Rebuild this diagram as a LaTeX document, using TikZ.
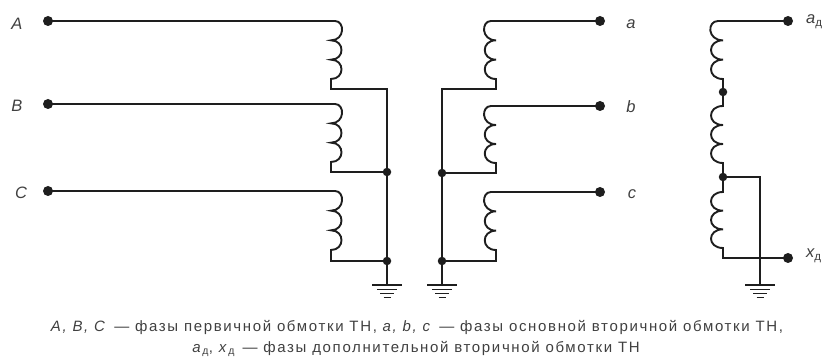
\documentclass[tikz,border=0pt]{standalone}
\usepackage{fontspec}
\setmainfont{Liberation Sans}
\usetikzlibrary{calc}
\definecolor{ink}{HTML}{1E1E1E}
\newfontfamily\capfont[LetterSpace=11]{Liberation Sans}
\tikzset{
  wire/.style={draw=ink,line width=1.9pt,line join=miter},
  termdot/.style={circle,fill=ink,inner sep=0pt,minimum size=10pt},
  joindot/.style={circle,fill=ink,inner sep=0pt,minimum size=8.5pt},
  lab/.style={text=ink!85,font=\fontsize{16.5}{18}\selectfont\itshape,inner sep=0pt},
  captext/.style={text=ink!85,font=\fontsize{15}{17}\capfont,inner sep=0pt},
  coil/.style={to path={
    .. controls ($(\tikztotarget |- \tikztostart)+(#1,0)$) and ($(\tikztotarget)!2/3!(\tikztotarget |- \tikztostart)+(#1,0)$) .. ($(\tikztotarget)!2/3!(\tikztotarget |- \tikztostart)$)
    .. controls ($(\tikztotarget)!2/3!(\tikztotarget |- \tikztostart)+(#1,0)$) and ($(\tikztotarget)!1/3!(\tikztotarget |- \tikztostart)+(#1,0)$) .. ($(\tikztotarget)!1/3!(\tikztotarget |- \tikztostart)$)
    .. controls ($(\tikztotarget)!1/3!(\tikztotarget |- \tikztostart)+(#1,0)$) and ($(\tikztotarget)+(#1,0)$) .. (\tikztotarget)}},
  gnd/.pic={
    \draw[draw=ink,line width=1.9pt] (-15,0) -- (15,0);
    \draw[draw=ink,line width=1.8pt] (-10,4.5) -- (10,4.5);
    \draw[draw=ink,line width=1.7pt] (-7,8.5) -- (7,8.5);
    \draw[draw=ink,line width=1.6pt] (-3.5,12.5) -- (3.5,12.5);
  }
}
\begin{document}
\begin{tikzpicture}[x=1pt,y=-1pt]
\useasboundingbox (0,0) rectangle (825,358);
% primary
\node[termdot] (dA) at (48,21) {};
\node[termdot] (dB) at (48,104) {};
\node[termdot] (dC) at (48,191) {};
\coordinate (tA) at (335,21); \coordinate (bA) at (331,79); \coordinate (eA) at (331,89);
\coordinate (tB) at (335,104); \coordinate (bB) at (331,162); \coordinate (eB) at (331,172);
\coordinate (tC) at (335,191); \coordinate (bC) at (331,250); \coordinate (eC) at (331,261);
\coordinate (cn) at (387,89);
\node[joindot] (jP1) at (387,172) {};
\node[joindot] (jP2) at (387,261) {};
\coordinate (gP) at (387,285);
\draw[wire] (dA.center) -- (tA) to[coil=14] (bA) -- (eA) -- (cn) -- (jP1.center) -- (jP2.center) -- (gP);
\draw[wire] (dB.center) -- (tB) to[coil=14] (bB) -- (eB) -- (jP1.center);
\draw[wire] (dC.center) -- (tC) to[coil=14] (bC) -- (eC) -- (jP2.center);
\pic at (gP) {gnd};
% secondary
\node[termdot] (da) at (600,21) {};
\node[termdot] (db) at (600,106) {};
\node[termdot] (dc) at (600,192) {};
\coordinate (ta) at (491,21); \coordinate (ba) at (496,79); \coordinate (ea) at (496,89);
\coordinate (tb) at (491,106); \coordinate (bb) at (496,163); \coordinate (eb) at (496,173);
\coordinate (tc) at (491,192); \coordinate (bc) at (496,250); \coordinate (ec) at (496,261);
\coordinate (cs) at (442,89);
\node[joindot] (jS1) at (442,173) {};
\node[joindot] (jS2) at (442,261) {};
\coordinate (gS) at (442,285);
\draw[wire] (da.center) -- (ta) to[coil=-15] (ba) -- (ea) -- (cs) -- (jS1.center) -- (jS2.center) -- (gS);
\draw[wire] (db.center) -- (tb) to[coil=-15] (bb) -- (eb) -- (jS1.center);
\draw[wire] (dc.center) -- (tc) to[coil=-15] (bc) -- (ec) -- (jS2.center);
\pic at (gS) {gnd};
% additional
\node[termdot] (dad) at (788,21) {};
\node[termdot] (dxd) at (788,258) {};
\node[joindot] (j1) at (723,92) {};
\node[joindot] (j2) at (723,177) {};
\coordinate (t1) at (718,21); \coordinate (b1) at (723,79);
\coordinate (t2) at (723,106); \coordinate (b2) at (723,163);
\coordinate (t3) at (723,192); \coordinate (b3) at (723,248); \coordinate (e3) at (723,258);
\coordinate (cd) at (760,177);
\coordinate (gD) at (760,285);
\draw[wire] (dad.center) -- (t1) to[coil=-16] (b1) -- (j1.center) -- (t2) to[coil=-16] (b2) -- (j2.center) -- (t3) to[coil=-16] (b3) -- (e3) -- (dxd.center);
\draw[wire] (j2.center) -- (cd) -- (gD);
\pic at (gD) {gnd};
% labels
\node[lab] (lA) at (17,24) {A};
\node[lab] (lB) at (17,106) {B};
\node[lab] (lC) at (21,193) {C};
\node[lab] (la) at (631,24) {a};
\node[lab] (lb) at (631,107) {b};
\node[lab] (lc) at (632,194) {c};
\node[lab,anchor=west] (lad) at (806,22) {a\textsubscript{\textup{д}}};
\node[lab,anchor=west] (lxd) at (806,256) {x\textsubscript{\textup{д}}};
\node[captext] (c1) at (417,327) {\textit{A, B, C}\enspace — фазы первичной обмотки ТН, \textit{a, b, c}\enspace — фазы основной вторичной обмотки ТН,};
\node[captext] (c2) at (416,349) {\textit{a}\textsubscript{д}, \textit{x}\textsubscript{д}\enspace — фазы дополнительной вторичной обмотки ТН};
\end{tikzpicture}
\end{document}
